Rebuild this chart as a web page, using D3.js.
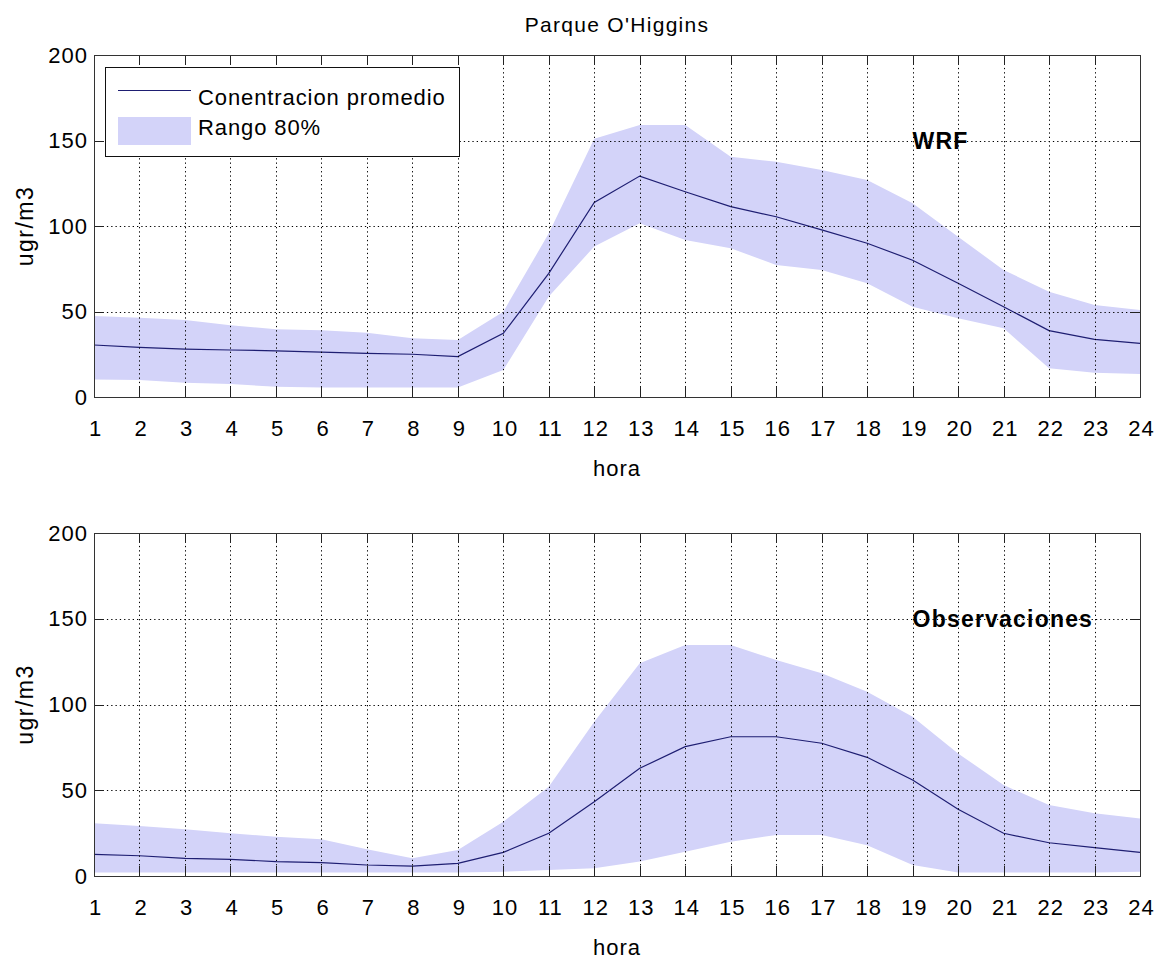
<!DOCTYPE html>
<html>
<head>
<meta charset="utf-8">
<script src="https://cdn.jsdelivr.net/npm/d3@7"></script>
<style>
  html, body { margin: 0; padding: 0; background: #ffffff; }
  svg { display: block; }
  text { font-family: "Liberation Sans", Arial, Helvetica, sans-serif; fill: #000; }
</style>
</head>
<body>
<svg id="chart" width="1155" height="959"></svg>
<script>
// ---- data ----
const hours = [1,2,3,4,5,6,7,8,9,10,11,12,13,14,15,16,17,18,19,20,21,22,23,24];
const yTicks = [0, 50, 100, 150, 200];

const wrfMean  = [30.4,29,28,27.5,27,26.3,25.5,25,23.6,37.2,72.3,113.8,129.2,120,111.3,105.4,97.7,89.9,80,66.5,52.8,38.8,33.7,31.4];
const wrfUpper = [47.4,46.4,45,42,39.6,39,37.6,34.3,33.3,49.9,95.7,151,159,159,140.5,137.6,132.7,126.9,113.3,93.7,74.3,61.6,53.8,50.9];
const wrfLower = [10.3,10,8.4,7.6,6,5.5,5.5,5.5,5.5,15.8,58.7,88,101.6,91.8,87,77.2,74.3,66.5,52.8,46,40.2,16.8,14.2,13.5];

const obsMean  = [12.6,11.8,10.3,9.7,8.4,7.8,6.4,5.8,7.4,13.8,24.9,43.3,62.8,75.4,81.2,81.2,77.4,69.2,56,38.9,24.9,19.4,16.5,13.8];
const obsUpper = [30.7,29.2,27.2,24.9,22.9,21.4,15.6,10.3,15.2,31.7,52,90,124,134.7,134.7,126,118.2,107.5,92.9,71.5,53,41.4,36.6,33.6];
const obsLower = [2,2,2,2,2,2,2,2,2,2.5,3.5,4.5,8.4,14.2,20,23.9,23.9,18,6.4,2,2,2,2,2.5];

const titleText = "Parque O'Higgins";
const xLabel = "hora";
const yLabel = "ugr/m3";
const legendLabels = ["Conentracion promedio", "Rango 80%"];
const panelLabels = ["WRF", "Observaciones"];

// ---- styles ----
const fillColor = "#d3d3f9";
const lineColor = "#1e1e72";
const fontSize = 21;

const svg = d3.select("#chart");
const x = d3.scaleLinear().domain([1, 24]).range([94, 1140]);

svg.append("text")
  .attr("x", 617).attr("y", 32)
  .attr("text-anchor", "middle")
  .attr("font-size", 21).attr("letter-spacing", 1.3)
  .text(titleText);

function panel(top, bottom, mean, upper, lower, label, withLegend) {
  const y = d3.scaleLinear().domain([0, 200]).range([bottom, top]);
  const g = svg.append("g");
  const idx = d3.range(hours.length);

  // band
  g.append("path")
    .attr("d", d3.area()
      .x(i => x(hours[i]))
      .y0(i => y(lower[i]))
      .y1(i => y(upper[i]))(idx))
    .attr("fill", fillColor)
    .attr("stroke", "none");

  // mean line
  g.append("path")
    .attr("d", d3.line()
      .x(i => x(hours[i]))
      .y(i => y(mean[i]))(idx))
    .attr("fill", "none")
    .attr("stroke", lineColor)
    .attr("stroke-width", 1.2);

  // grid (dotted) over data
  const grid = g.append("g").attr("stroke", "#000").attr("stroke-width", 1)
    .attr("stroke-dasharray", "1.3,3");
  hours.slice(1, -1).forEach(h => {
    grid.append("line")
      .attr("x1", Math.round(x(h)) + 0.5).attr("x2", Math.round(x(h)) + 0.5)
      .attr("y1", top).attr("y2", bottom);
  });
  yTicks.slice(1, -1).forEach(v => {
    grid.append("line")
      .attr("y1", Math.round(y(v)) + 0.5).attr("y2", Math.round(y(v)) + 0.5)
      .attr("x1", x(1)).attr("x2", x(24));
  });

  // inner ticks
  const tk = g.append("g").attr("stroke", "#222").attr("stroke-width", 1);
  hours.forEach(h => {
    const xx = Math.round(x(h)) + 0.5;
    tk.append("line").attr("x1", xx).attr("x2", xx).attr("y1", bottom).attr("y2", bottom - 10);
    tk.append("line").attr("x1", xx).attr("x2", xx).attr("y1", top).attr("y2", top + 10);
  });
  yTicks.forEach(v => {
    const yy = Math.round(y(v)) + 0.5;
    tk.append("line").attr("x1", x(1)).attr("x2", x(1) + 10).attr("y1", yy).attr("y2", yy);
    tk.append("line").attr("x1", x(24)).attr("x2", x(24) - 10).attr("y1", yy).attr("y2", yy);
  });

  // box
  g.append("rect")
    .attr("x", x(1) + 0.5).attr("y", top + 0.5)
    .attr("width", x(24) - x(1)).attr("height", bottom - top)
    .attr("fill", "none").attr("stroke", "#333").attr("stroke-width", 1);

  // axes labels via d3 axes
  const ax = g.append("g").attr("transform", `translate(0,${bottom})`)
    .call(d3.axisBottom(x).tickValues(hours).tickFormat(d3.format("d")).tickSize(0).tickPadding(23));
  const ay = g.append("g").attr("transform", `translate(${x(1)},0)`)
    .call(d3.axisLeft(y).tickValues(yTicks).tickFormat(d3.format("d")).tickSize(0).tickPadding(6));
  [ax, ay].forEach(a => {
    a.select(".domain").remove();
    a.selectAll("text").attr("font-size", 22).attr("letter-spacing", 1)
      .attr("font-family", "Liberation Sans, Arial, sans-serif").attr("fill", "#000");
  });
  ax.selectAll("text").attr("dx", "0.05em");

  // axis titles
  g.append("text")
    .attr("x", 617).attr("y", bottom + 79)
    .attr("text-anchor", "middle")
    .attr("font-size", 22).attr("letter-spacing", 1)
    .text(xLabel);
  g.append("text")
    .attr("transform", `translate(33,${(top + bottom) / 2}) rotate(-90)`)
    .attr("text-anchor", "middle")
    .attr("font-size", 23).attr("letter-spacing", 1.5)
    .text(yLabel);

  // panel label
  g.append("text")
    .attr("x", x(19)).attr("y", y(150))
    .attr("dy", "0.36em")
    .attr("font-size", 23).attr("font-weight", "bold").attr("letter-spacing", 1.2)
    .text(label);

  if (withLegend) {
    const lg = g.append("g");
    lg.append("rect").attr("x", 105.5).attr("y", 67.5).attr("width", 354).attr("height", 89)
      .attr("fill", "#fff").attr("stroke", "#111").attr("stroke-width", 1);
    lg.append("line").attr("x1", 118).attr("x2", 191).attr("y1", 90.5).attr("y2", 90.5)
      .attr("stroke", lineColor).attr("stroke-width", 1.2);
    lg.append("rect").attr("x", 118).attr("y", 117).attr("width", 73).attr("height", 28)
      .attr("fill", fillColor);
    lg.append("text").attr("x", 198).attr("y", 105)
      .attr("font-size", 22).attr("letter-spacing", 0.9).text(legendLabels[0]);
    lg.append("text").attr("x", 198).attr("y", 135)
      .attr("font-size", 22).attr("letter-spacing", 0.9).text(legendLabels[1]);
  }
}

panel(55, 397, wrfMean, wrfUpper, wrfLower, panelLabels[0], true);
panel(533, 876, obsMean, obsUpper, obsLower, panelLabels[1], false);
</script>
</body>
</html>
